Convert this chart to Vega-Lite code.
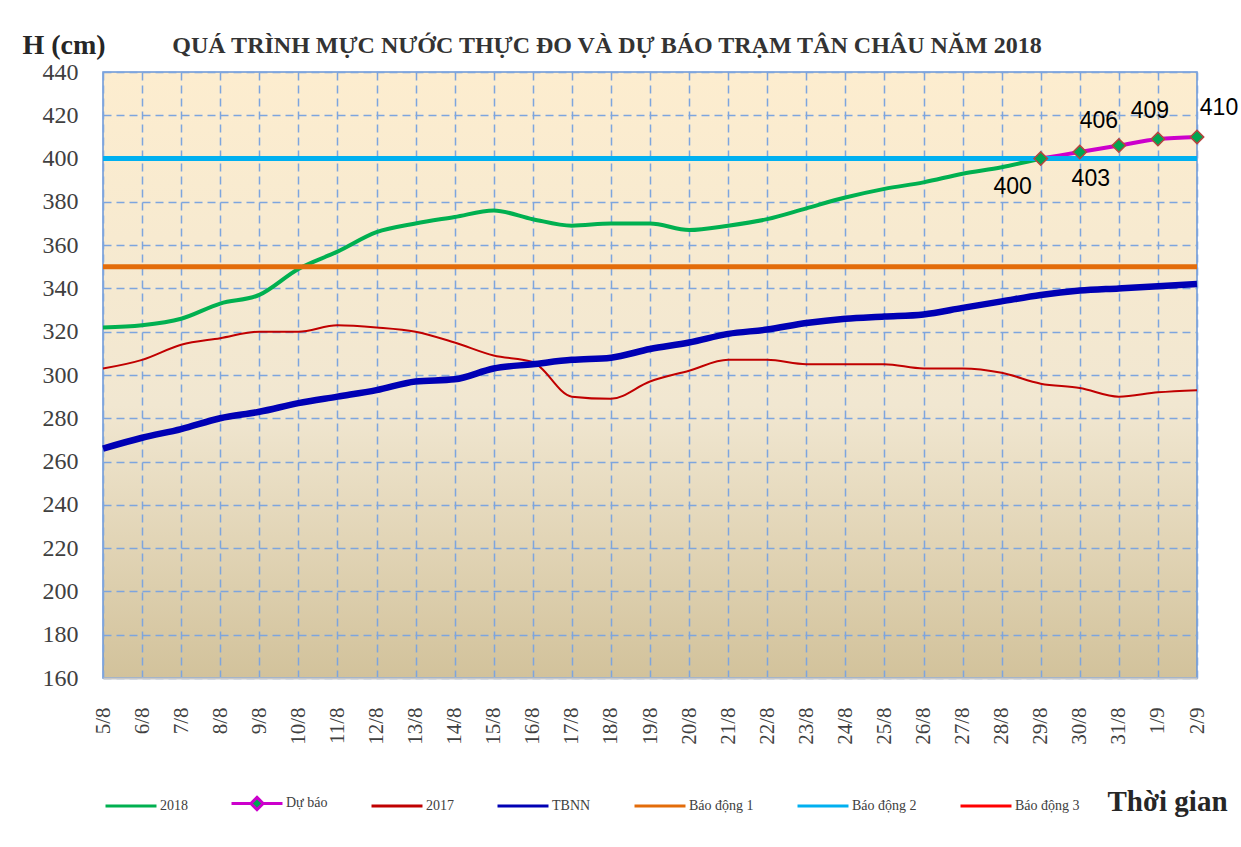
{
  "$schema": "https://vega.github.io/schema/vega-lite/v6.json",
  "width": 1094,
  "height": 606,
  "autosize": {"type": "none"},
  "padding": {"left": 103, "top": 72, "right": 44, "bottom": 169},
  "background": "white",
  "title": {
    "text": "QUÁ TRÌNH MỰC NƯỚC THỰC ĐO VÀ DỰ BÁO TRẠM TÂN CHÂU NĂM 2018",
    "font": "Liberation Serif",
    "fontSize": 24,
    "fontWeight": "bold",
    "color": "#333333",
    "anchor": "middle",
    "dx": -43,
    "baseline": "alphabetic",
    "offset": -46
  },
  "config": {
    "view": {
      "stroke": "#6A95D6",
      "strokeWidth": 1.5,
      "fill": {
        "gradient": "linear",
        "x1": 0, "y1": 0, "x2": 0, "y2": 1,
        "stops": [
          {"offset": 0, "color": "#FDEDCF"},
          {"offset": 0.55, "color": "#F1E7D1"},
          {"offset": 1, "color": "#D2C29B"}
        ]
      }
    },
    "axis": {
      "gridColor": "#7DA5DE",
      "gridDash": [8, 5],
      "gridWidth": 1.5,
      "gridOpacity": 1,
      "ticks": false,
      "tickSize": 0,
      "domain": false,
      "labelFont": "Liberation Serif",
      "labelColor": "#404040"
    }
  },
  "data": {
    "values": [
      {"d": "5/8", "series": "2018", "h": 322},
      {"d": "6/8", "series": "2018", "h": 323},
      {"d": "7/8", "series": "2018", "h": 326},
      {"d": "8/8", "series": "2018", "h": 333},
      {"d": "9/8", "series": "2018", "h": 337},
      {"d": "10/8", "series": "2018", "h": 349},
      {"d": "11/8", "series": "2018", "h": 357},
      {"d": "12/8", "series": "2018", "h": 366},
      {"d": "13/8", "series": "2018", "h": 370},
      {"d": "14/8", "series": "2018", "h": 373},
      {"d": "15/8", "series": "2018", "h": 376},
      {"d": "16/8", "series": "2018", "h": 372},
      {"d": "17/8", "series": "2018", "h": 369},
      {"d": "18/8", "series": "2018", "h": 370},
      {"d": "19/8", "series": "2018", "h": 370},
      {"d": "20/8", "series": "2018", "h": 367},
      {"d": "21/8", "series": "2018", "h": 369},
      {"d": "22/8", "series": "2018", "h": 372},
      {"d": "23/8", "series": "2018", "h": 377},
      {"d": "24/8", "series": "2018", "h": 382},
      {"d": "25/8", "series": "2018", "h": 386},
      {"d": "26/8", "series": "2018", "h": 389},
      {"d": "27/8", "series": "2018", "h": 393},
      {"d": "28/8", "series": "2018", "h": 396},
      {"d": "29/8", "series": "2018", "h": 400},
      {"d": "29/8", "series": "Dự báo", "h": 400},
      {"d": "30/8", "series": "Dự báo", "h": 403},
      {"d": "31/8", "series": "Dự báo", "h": 406},
      {"d": "1/9", "series": "Dự báo", "h": 409},
      {"d": "2/9", "series": "Dự báo", "h": 410},
      {"d": "5/8", "series": "2017", "h": 303},
      {"d": "6/8", "series": "2017", "h": 307},
      {"d": "7/8", "series": "2017", "h": 314},
      {"d": "8/8", "series": "2017", "h": 317},
      {"d": "9/8", "series": "2017", "h": 320},
      {"d": "10/8", "series": "2017", "h": 320},
      {"d": "11/8", "series": "2017", "h": 323},
      {"d": "12/8", "series": "2017", "h": 322},
      {"d": "13/8", "series": "2017", "h": 320},
      {"d": "14/8", "series": "2017", "h": 315},
      {"d": "15/8", "series": "2017", "h": 309},
      {"d": "16/8", "series": "2017", "h": 306},
      {"d": "17/8", "series": "2017", "h": 290},
      {"d": "18/8", "series": "2017", "h": 289},
      {"d": "19/8", "series": "2017", "h": 297},
      {"d": "20/8", "series": "2017", "h": 302},
      {"d": "21/8", "series": "2017", "h": 307},
      {"d": "22/8", "series": "2017", "h": 307},
      {"d": "23/8", "series": "2017", "h": 305},
      {"d": "24/8", "series": "2017", "h": 305},
      {"d": "25/8", "series": "2017", "h": 305},
      {"d": "26/8", "series": "2017", "h": 303},
      {"d": "27/8", "series": "2017", "h": 303},
      {"d": "28/8", "series": "2017", "h": 301},
      {"d": "29/8", "series": "2017", "h": 296},
      {"d": "30/8", "series": "2017", "h": 294},
      {"d": "31/8", "series": "2017", "h": 290},
      {"d": "1/9", "series": "2017", "h": 292},
      {"d": "2/9", "series": "2017", "h": 293},
      {"d": "5/8", "series": "TBNN", "h": 266},
      {"d": "6/8", "series": "TBNN", "h": 271},
      {"d": "7/8", "series": "TBNN", "h": 275},
      {"d": "8/8", "series": "TBNN", "h": 280},
      {"d": "9/8", "series": "TBNN", "h": 283},
      {"d": "10/8", "series": "TBNN", "h": 287},
      {"d": "11/8", "series": "TBNN", "h": 290},
      {"d": "12/8", "series": "TBNN", "h": 293},
      {"d": "13/8", "series": "TBNN", "h": 297},
      {"d": "14/8", "series": "TBNN", "h": 298},
      {"d": "15/8", "series": "TBNN", "h": 303},
      {"d": "16/8", "series": "TBNN", "h": 305},
      {"d": "17/8", "series": "TBNN", "h": 307},
      {"d": "18/8", "series": "TBNN", "h": 308},
      {"d": "19/8", "series": "TBNN", "h": 312},
      {"d": "20/8", "series": "TBNN", "h": 315},
      {"d": "21/8", "series": "TBNN", "h": 319},
      {"d": "22/8", "series": "TBNN", "h": 321},
      {"d": "23/8", "series": "TBNN", "h": 324},
      {"d": "24/8", "series": "TBNN", "h": 326},
      {"d": "25/8", "series": "TBNN", "h": 327},
      {"d": "26/8", "series": "TBNN", "h": 328},
      {"d": "27/8", "series": "TBNN", "h": 331},
      {"d": "28/8", "series": "TBNN", "h": 334},
      {"d": "29/8", "series": "TBNN", "h": 337},
      {"d": "30/8", "series": "TBNN", "h": 339},
      {"d": "31/8", "series": "TBNN", "h": 340},
      {"d": "1/9", "series": "TBNN", "h": 341},
      {"d": "2/9", "series": "TBNN", "h": 342},
      {"d": "5/8", "series": "Báo động 1", "h": 350},
      {"d": "2/9", "series": "Báo động 1", "h": 350},
      {"d": "5/8", "series": "Báo động 2", "h": 400},
      {"d": "2/9", "series": "Báo động 2", "h": 400}
    ]
  },
  "encoding": {
    "x": {
      "field": "d",
      "type": "ordinal",
      "scale": {
        "type": "point",
        "padding": 0,
        "domain": ["5/8","6/8","7/8","8/8","9/8","10/8","11/8","12/8","13/8","14/8","15/8","16/8","17/8","18/8","19/8","20/8","21/8","22/8","23/8","24/8","25/8","26/8","27/8","28/8","29/8","30/8","31/8","1/9","2/9"]
      },
      "axis": {
        "title": "Thời gian",
        "titleFont": "Liberation Serif",
        "titleFontSize": 29,
        "titleFontWeight": "bold",
        "titleColor": "#262626",
        "titleAlign": "left",
        "titleBaseline": "alphabetic",
        "titleAnchor": null,
        "titleX": 1004,
        "titleY": 132,
        "labelAngle": -90,
        "labelFontSize": 21,
        "labelPadding": 29,
        "grid": true,
        "domain": true,
        "domainColor": "#C8C8C8",
        "domainWidth": 2
      }
    },
    "y": {
      "field": "h",
      "type": "quantitative",
      "scale": {"domain": [160, 440], "nice": false, "zero": false},
      "axis": {
        "values": [160,180,200,220,240,260,280,300,320,340,360,380,400,420,440],
        "title": "H (cm)",
        "titleFont": "Liberation Serif",
        "titleFontSize": 28,
        "titleFontWeight": "bold",
        "titleColor": "#262626",
        "titleAngle": 0,
        "titleAlign": "left",
        "titleBaseline": "alphabetic",
        "titleAnchor": null,
        "titleX": -81,
        "titleY": -19,
        "labelFontSize": 24,
        "labelPadding": 25
      }
    },
    "color": {
      "field": "series",
      "type": "nominal",
      "scale": {
        "domain": ["2018", "Dự báo", "2017", "TBNN", "Báo động 1", "Báo động 2", "Báo động 3"],
        "range": ["#00B050", "#CC00CC", "#C00000", "#0000B4", "#E36C0A", "#00B0F0", "#FF0000"]
      },
      "legend": {
        "title": null,
        "orient": "none",
        "legendX": 1,
        "legendY": 704,
        "direction": "horizontal",
        "columns": 7,
        "symbolSize": 2600,
        "symbolStrokeWidth": 3,
        "symbolType": "M-1,0H1",
        "symbolFillColor": "#00A651",
        "labelFont": "Liberation Serif",
        "labelFontSize": 14,
        "labelColor": "#404040",
        "labelOffset": 2,
        "columnPadding": 37,
        "padding": 0,
        "encode": {
          "symbols": {
            "update": {
              "shape": [
                {"test": "datum.value === 'Dự báo'", "value": "M-1,0H-0.24M0.24,0H1M0,-0.24L0.24,0L0,0.24L-0.24,0Z"},
                {"value": "M-1,0H1"}
              ],
              "fill": {"signal": "datum.value === 'Dự báo' ? '#00A651' : 'transparent'"}
            }
          }
        }
      }
    }
  },
  "layer": [
    {
      "transform": [{"filter": "datum.series === '2018'"}],
      "mark": {"type": "line", "strokeWidth": 4, "interpolate": "monotone"}
    },
    {
      "transform": [{"filter": "datum.series === 'Dự báo'"}],
      "mark": {"type": "line", "strokeWidth": 4, "interpolate": "monotone"}
    },
    {
      "transform": [{"filter": "datum.series === '2017'"}],
      "mark": {"type": "line", "strokeWidth": 2, "interpolate": "monotone"}
    },
    {
      "transform": [{"filter": "datum.series === 'TBNN'"}],
      "mark": {"type": "line", "strokeWidth": 6.5, "interpolate": "monotone"}
    },
    {
      "transform": [{"filter": "datum.series === 'Báo động 1'"}],
      "mark": {"type": "line", "strokeWidth": 5}
    },
    {
      "transform": [{"filter": "datum.series === 'Báo động 2'"}],
      "mark": {"type": "line", "strokeWidth": 5}
    },
    {
      "transform": [{"filter": "datum.series === 'Dự báo'"}],
      "mark": {"type": "point", "shape": "diamond", "filled": true, "size": 180, "strokeWidth": 1.5, "opacity": 1},
      "encoding": {
        "color": {"value": "#00A651"},
        "stroke": {"value": "#B5443F"}
      }
    },
    {
      "transform": [{"filter": "datum.series === 'Dự báo' && datum.d === '29/8'"}],
      "mark": {"type": "text", "font": "Liberation Sans", "fontSize": 23, "dx": -28, "dy": 28, "align": "center", "baseline": "middle"},
      "encoding": {"text": {"field": "h"}, "color": {"value": "#000000"}}
    },
    {
      "transform": [{"filter": "datum.series === 'Dự báo' && datum.d === '30/8'"}],
      "mark": {"type": "text", "font": "Liberation Sans", "fontSize": 23, "dx": 11, "dy": 27, "align": "center", "baseline": "middle"},
      "encoding": {"text": {"field": "h"}, "color": {"value": "#000000"}}
    },
    {
      "transform": [{"filter": "datum.series === 'Dự báo' && datum.d === '31/8'"}],
      "mark": {"type": "text", "font": "Liberation Sans", "fontSize": 23, "dx": -20, "dy": -25, "align": "center", "baseline": "middle"},
      "encoding": {"text": {"field": "h"}, "color": {"value": "#000000"}}
    },
    {
      "transform": [{"filter": "datum.series === 'Dự báo' && datum.d === '1/9'"}],
      "mark": {"type": "text", "font": "Liberation Sans", "fontSize": 23, "dx": -8, "dy": -28, "align": "center", "baseline": "middle"},
      "encoding": {"text": {"field": "h"}, "color": {"value": "#000000"}}
    },
    {
      "transform": [{"filter": "datum.series === 'Dự báo' && datum.d === '2/9'"}],
      "mark": {"type": "text", "font": "Liberation Sans", "fontSize": 23, "dx": 22, "dy": -29, "align": "center", "baseline": "middle"},
      "encoding": {"text": {"field": "h"}, "color": {"value": "#000000"}}
    }
  ]
}
